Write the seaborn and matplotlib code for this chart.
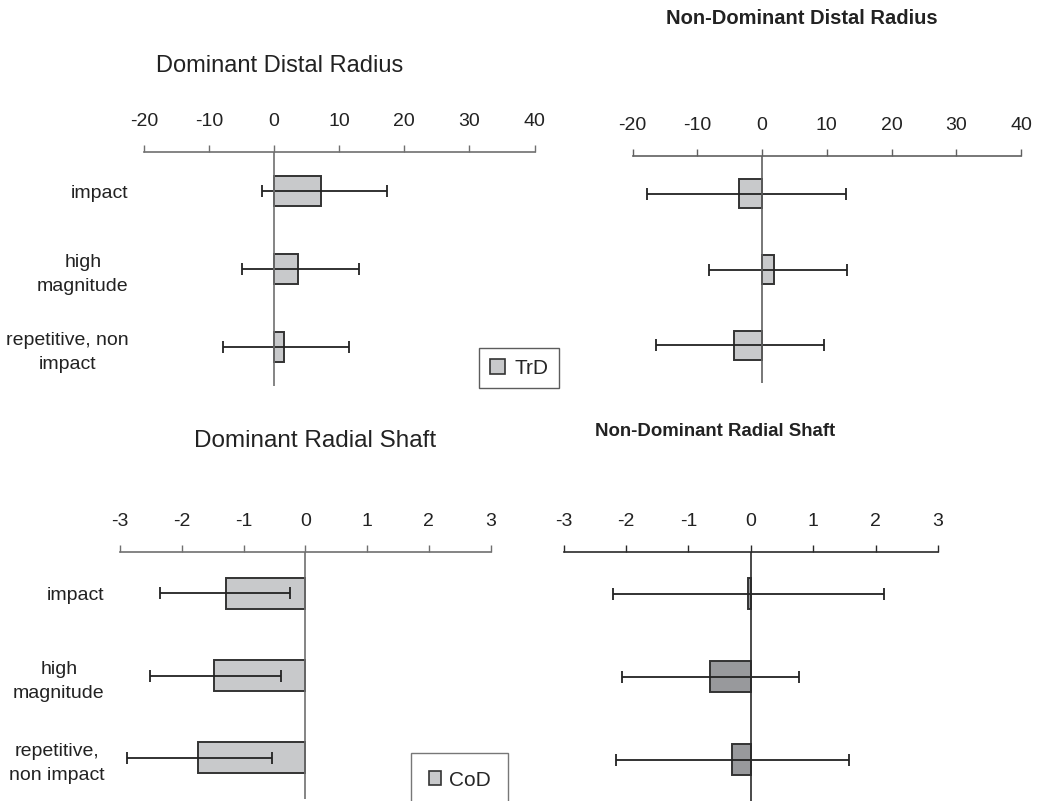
import matplotlib
matplotlib.use("Agg")
import matplotlib.pyplot as plt
import seaborn as sns
import pandas as pd
import numpy as np
from matplotlib.patches import Patch

sns.set_theme(style="white")
plt.rcParams['font.family'] = ['Liberation Sans', 'DejaVu Sans']

# ---------------- data ----------------
categories_radius = ["impact", "high\nmagnitude", "repetitive, non\nimpact"]
categories_shaft = ["impact", "high\nmagnitude", "repetitive,\nnon impact"]

dom_dr_mean = [7.2, 3.6, 1.5]
dom_dr_low = [-1.9, -5.0, -7.9]
dom_dr_high = [17.3, 13.0, 11.5]

nondom_dr_mean = [-3.6, 1.9, -4.4]
nondom_dr_low = [-17.8, -8.2, -16.4]
nondom_dr_high = [12.9, 13.1, 9.5]

dom_rs_mean = [-1.29, -1.48, -1.73]
dom_rs_low = [-2.36, -2.52, -2.89]
dom_rs_high = [-0.24, -0.40, -0.54]

nondom_rs_mean = [-0.04, -0.65, -0.30]
nondom_rs_low = [-2.20, -2.06, -2.16]
nondom_rs_high = [2.14, 0.78, 1.57]

dr_ticks = [-20, -10, 0, 10, 20, 30, 40]
rs_ticks = [-3, -2, -1, 0, 1, 2, 3]

titles = ["Dominant Distal Radius", "Non-Dominant Distal Radius",
          "Dominant Radial Shaft", "Non-Dominant Radial Shaft"]
legend_labels = ["TrD", "CoD"]

# ---------------- figure ----------------
W, H = 1039, 801
fig = plt.figure(figsize=(W / 100, H / 100), dpi=100)
fig.patch.set_facecolor("white")

LIGHT = "#c8c9cb"
DARK = "#98999c"
EDGE = "#333333"


def panel(rect, cats, mean, low, high, ticks, color, spine_color, show_y):
    l, t, r, b = rect
    ax = fig.add_axes([l / W, 1 - b / H, (r - l) / W, (b - t) / H])
    df = pd.DataFrame({"cat": cats, "val": mean})
    sns.barplot(data=df, x="val", y="cat", orient="h", color=color,
                saturation=1, edgecolor=EDGE, linewidth=1.4, width=0.38,
                errorbar=None, ax=ax, zorder=2)
    m = np.array(mean)
    xerr = [m - np.array(low), np.array(high) - m]
    ax.errorbar(m, np.arange(len(m)), xerr=xerr, fmt="none", ecolor="#222222",
                elinewidth=1.3, capsize=4, capthick=1.3, zorder=3)
    ax.axvline(0, color=spine_color, lw=1.2, zorder=4)
    ax.set_xlim(ticks[0], ticks[-1])
    ax.set_ylim(len(m) - 0.5, -0.5)
    ax.set_xticks(ticks)
    ax.set_xticklabels([str(v) for v in ticks])
    ax.xaxis.tick_top()
    for s in ["left", "right", "bottom"]:
        ax.spines[s].set_visible(False)
    ax.spines["top"].set_visible(True)
    ax.spines["top"].set_color(spine_color)
    ax.spines["top"].set_linewidth(1.2)
    ax.tick_params(axis="x", top=True, bottom=False, direction="out",
                   length=5, width=1, color=spine_color, labelcolor="#222222",
                   labelsize=14, pad=11)
    ax.tick_params(axis="y", left=False, length=0, pad=11, labelsize=14,
                   labelcolor="#222222")
    ax.set_xlabel("")
    ax.set_ylabel("")
    ax.grid(False)
    ax.set_facecolor("none")
    if show_y:
        for lbl in ax.get_yticklabels():
            lbl.set_multialignment("center")
            lbl.set_linespacing(1.55)
    else:
        ax.set_yticklabels([])
    return ax


panel((144, 152, 534.5, 386), categories_radius, dom_dr_mean, dom_dr_low,
      dom_dr_high, dr_ticks, LIGHT, "#707070", True)
panel((632.5, 156, 1021, 383), categories_radius, nondom_dr_mean,
      nondom_dr_low, nondom_dr_high, dr_ticks, LIGHT, "#606060", False)
panel((120, 552, 490.5, 799), categories_shaft, dom_rs_mean, dom_rs_low,
      dom_rs_high, rs_ticks, LIGHT, "#707070", True)
panel((563.5, 552, 938, 801), categories_shaft, nondom_rs_mean,
      nondom_rs_low, nondom_rs_high, rs_ticks, DARK, "#2a2a2a", False)

# titles
fig.text(280 / W, 1 - 66 / H, titles[0], ha="center", va="center",
         fontsize=17, color="#222222")
fig.text(802 / W, 1 - 19 / H, titles[1], ha="center", va="center",
         fontsize=14.5, fontweight="bold", color="#222222")
fig.text(315 / W, 1 - 441 / H, titles[2], ha="center", va="center",
         fontsize=17.5, color="#222222")
fig.text(715 / W, 1 - 431 / H, titles[3], ha="center", va="center",
         fontsize=13.4, fontweight="bold", color="#222222")

# legends
leg1 = fig.legend(handles=[Patch(facecolor=LIGHT, edgecolor=EDGE, lw=1.2,
                                 label=legend_labels[0])],
                  loc="center", bbox_to_anchor=(519 / W, 1 - 368 / H),
                  frameon=True, fancybox=False, fontsize=15,
                  handlelength=0.72, handleheight=0.72, handletextpad=0.45,
                  borderpad=0.5, borderaxespad=0)
leg1.get_frame().set_edgecolor("#333333")
leg1.get_frame().set_linewidth(1.0)

leg2 = fig.legend(handles=[Patch(facecolor=LIGHT, edgecolor=EDGE, lw=1.2,
                                 label=legend_labels[1])],
                  loc="center", bbox_to_anchor=(459.5 / W, 1 - 780 / H),
                  frameon=True, fancybox=False, fontsize=15,
                  handlelength=0.62, handleheight=0.62, handletextpad=0.35,
                  borderpad=0.85, borderaxespad=0)
leg2.get_frame().set_edgecolor("#555555")
leg2.get_frame().set_linewidth(1.0)

fig.savefig("out.png", dpi=100, facecolor="white")
